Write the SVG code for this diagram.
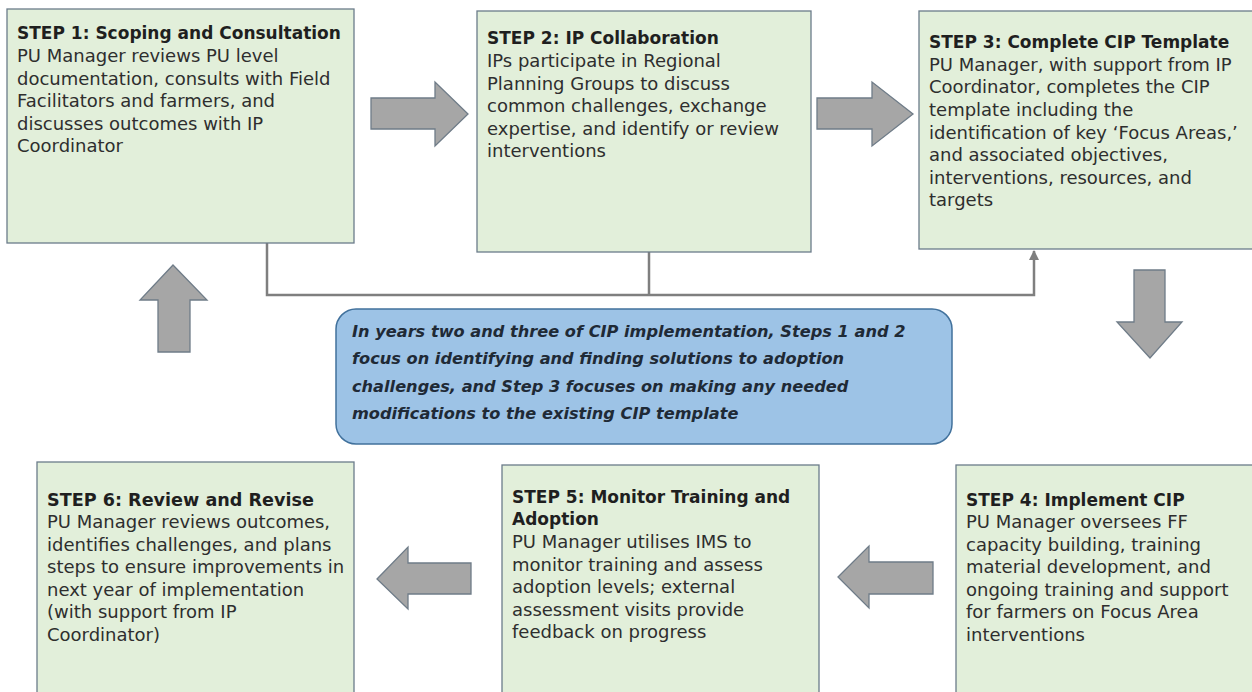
<svg xmlns="http://www.w3.org/2000/svg" width="1252" height="692" viewBox="0 0 1252 692">
<defs>
<style>
.box{fill:#E2EFDA;stroke:#6B7C8A;stroke-width:1.3}
.t{font-family:"DejaVu Sans","Open Sans",sans-serif;font-size:18px;fill:#2E2E2E}
.h{font-weight:bold;font-size:17px;fill:#1F1F1F}
.blk{fill:#A6A6A6;stroke:#6F7C88;stroke-width:1.3}
.con{fill:none;stroke:#7F7F7F;stroke-width:2.5}
.note{fill:#9DC3E6;stroke:#41719C;stroke-width:1.5}
.nt{font-family:"DejaVu Sans","Open Sans",sans-serif;font-size:16.2px;font-weight:bold;font-style:italic;fill:#1F2A36}
</style>
<marker id="ah" viewBox="0 0 10 10" refX="9" refY="5" markerWidth="4" markerHeight="4" orient="auto">
<path d="M0,0 L10,5 L0,10 Z" fill="#7F7F7F"/>
</marker>
</defs>
<rect width="1252" height="692" fill="#FFFFFF"/>

<g id="connectors">
<polyline class="con" points="267,243 267,295 1034,295 1034,251" marker-end="url(#ah)"/>
<line class="con" x1="649" y1="252" x2="649" y2="295"/>
<polygon class="blk" points="371,98 435,98 435,82 468,114 435,146 435,129 371,129"/>
<polygon class="blk" points="817,98 872,98 872,82 913,114 872,146 872,129 817,129"/>
<polygon class="blk" points="1134,270 1165,270 1165,322 1182,322 1150,358 1117,322 1134,322"/>
<polygon class="blk" points="173,265 207,300 190,300 190,352 158,352 158,300 140,300"/>
<polygon class="blk" points="838,577 869,546 869,562 933,562 933,594 869,594 869,608"/>
<polygon class="blk" points="377,579 408,547 408,563 471,563 471,594 408,594 408,609"/>
</g>

<g id="step1">
<rect class="box" x="7" y="9" width="347" height="234"/>
<text class="t" x="17" y="39"><tspan class="h">STEP 1: Scoping and Consultation</tspan>
<tspan x="17" y="62">PU Manager reviews PU level</tspan>
<tspan x="17" y="85">documentation, consults with Field</tspan>
<tspan x="17" y="107">Facilitators and farmers, and</tspan>
<tspan x="17" y="130">discusses outcomes with IP</tspan>
<tspan x="17" y="152">Coordinator</tspan></text>
</g>

<g id="step2">
<rect class="box" x="477" y="11" width="334" height="241"/>
<text class="t" x="487" y="44"><tspan class="h">STEP 2: IP Collaboration</tspan>
<tspan x="487" y="67">IPs participate in Regional</tspan>
<tspan x="487" y="90">Planning Groups to discuss</tspan>
<tspan x="487" y="112">common challenges, exchange</tspan>
<tspan x="487" y="135">expertise, and identify or review</tspan>
<tspan x="487" y="157">interventions</tspan></text>
</g>

<g id="step3">
<rect class="box" x="919" y="11" width="340" height="238"/>
<text class="t" x="929" y="48"><tspan class="h">STEP 3: Complete CIP Template</tspan>
<tspan x="929" y="71">PU Manager, with support from IP</tspan>
<tspan x="929" y="93">Coordinator, completes the CIP</tspan>
<tspan x="929" y="116">template including the</tspan>
<tspan x="929" y="139">identification of key ‘Focus Areas,’</tspan>
<tspan x="929" y="161">and associated objectives,</tspan>
<tspan x="929" y="184">interventions, resources, and</tspan>
<tspan x="929" y="206">targets</tspan></text>
</g>

<g id="note">
<rect class="note" x="336" y="309" width="616" height="135" rx="20" ry="20"/>
<text class="nt" x="352" y="337">In years two and three of CIP implementation, Steps 1 and 2
<tspan x="352" y="364">focus on identifying and finding solutions to adoption</tspan>
<tspan x="352" y="392">challenges, and Step 3 focuses on making any needed</tspan>
<tspan x="352" y="419">modifications to the existing CIP template</tspan></text>
</g>

<g id="step6">
<rect class="box" x="37" y="462" width="317" height="240"/>
<text class="t" x="47" y="506"><tspan class="h" style="font-size:17.6px">STEP 6: Review and Revise</tspan>
<tspan x="47" y="528">PU Manager reviews outcomes,</tspan>
<tspan x="47" y="551">identifies challenges, and plans</tspan>
<tspan x="47" y="573">steps to ensure improvements in</tspan>
<tspan x="47" y="596">next year of implementation</tspan>
<tspan x="47" y="618">(with support from IP</tspan>
<tspan x="47" y="641">Coordinator)</tspan></text>
</g>

<g id="step5">
<rect class="box" x="502" y="465" width="317" height="240"/>
<text class="t" x="512" y="503"><tspan class="h">STEP 5: Monitor Training and</tspan>
<tspan class="h" x="512" y="525">Adoption</tspan>
<tspan x="512" y="548">PU Manager utilises IMS to</tspan>
<tspan x="512" y="571">monitor training and assess</tspan>
<tspan x="512" y="593">adoption levels; external</tspan>
<tspan x="512" y="616">assessment visits provide</tspan>
<tspan x="512" y="638">feedback on progress</tspan></text>
</g>

<g id="step4">
<rect class="box" x="956" y="465" width="310" height="240"/>
<text class="t" x="966" y="506"><tspan class="h">STEP 4: Implement CIP</tspan>
<tspan x="966" y="528">PU Manager oversees FF</tspan>
<tspan x="966" y="551">capacity building, training</tspan>
<tspan x="966" y="573">material development, and</tspan>
<tspan x="966" y="596">ongoing training and support</tspan>
<tspan x="966" y="618">for farmers on Focus Area</tspan>
<tspan x="966" y="641">interventions</tspan></text>
</g>
</svg>
